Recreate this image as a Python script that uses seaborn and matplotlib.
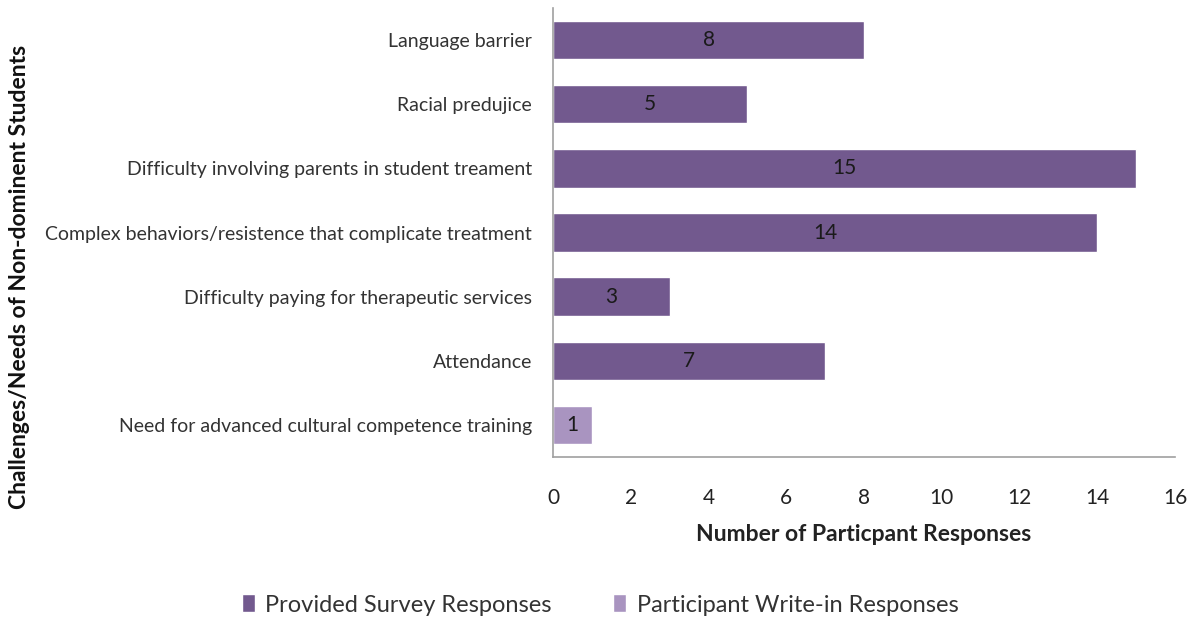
import matplotlib
matplotlib.use("Agg")
import matplotlib.pyplot as plt
import seaborn as sns
import pandas as pd

categories = [
    "Language barrier",
    "Racial predujice",
    "Difficulty involving parents in student treament",
    "Complex behaviors/resistence that complicate treatment",
    "Difficulty paying for therapeutic services",
    "Attendance",
    "Need for advanced cultural competence training",
]
counts = [8, 5, 15, 14, 3, 7, 1]
sources = [
    "Provided Survey Responses",
    "Provided Survey Responses",
    "Provided Survey Responses",
    "Provided Survey Responses",
    "Provided Survey Responses",
    "Provided Survey Responses",
    "Participant Write-in Responses",
]
series_order = ["Provided Survey Responses", "Participant Write-in Responses"]
series_colors = ["#72598E", "#A994C0"]
x_ticks = [0, 2, 4, 6, 8, 10, 12, 14, 16]

df = pd.DataFrame({"Challenge": categories, "Responses": counts, "Source": sources})

sns.set_theme(style="white")
plt.rcParams["font.family"] = ["Lato", "DejaVu Sans"]

fig = plt.figure(figsize=(11.95, 6.19), dpi=100)
ax = fig.add_axes([553 / 1195, 1 - 457 / 619, (1175 - 553) / 1195, (457 - 8) / 619])

sns.barplot(
    data=df, x="Responses", y="Challenge", hue="Source",
    hue_order=series_order, palette=series_colors, order=categories,
    dodge=False, width=0.6, orient="h", saturation=1, ax=ax, legend=True,
)

# value labels centred inside each bar
for container in ax.containers:
    for bar, val in zip(container, container.datavalues):
        if bar.get_width() == 0 or pd.isna(val):
            continue
        ax.text(bar.get_x() + bar.get_width() / 2, bar.get_y() + bar.get_height() / 2,
                f"{int(val)}", ha="center", va="center", fontsize=15, color="#1a1a1a")

ax.set_xlim(0, 16)
ax.set_xticks(x_ticks)
ax.set_ylim(len(categories) - 0.5, -0.5)
ax.tick_params(axis="x", labelsize=15, pad=22, length=0)
ax.tick_params(axis="y", labelsize=14, pad=15, length=0)
for lbl in ax.get_xticklabels():
    lbl.set_color("#222222")
for lbl in ax.get_yticklabels():
    lbl.set_color("#333333")

ax.set_xlabel("Number of Particpant Responses", fontsize=16.5, fontweight="bold", labelpad=12, color="#222222")
ax.set_ylabel("")
fig.text(20 / 1195, 1 - 277 / 619, "Challenges/Needs of Non-dominent Students", rotation=90,
         ha="center", va="center", fontsize=16.5, fontweight="bold", color="#111111")

for s in ["top", "right"]:
    ax.spines[s].set_visible(False)
for s in ["left", "bottom"]:
    ax.spines[s].set_color("#A0A0A0")
    ax.spines[s].set_linewidth(1.2)

leg = ax.legend(loc="center", ncol=2, frameon=False, fontsize=17, handlelength=0.55,
                handleheight=0.8, handletextpad=0.45, columnspacing=2.6)
leg.set_bbox_to_anchor((600 / 1195, 1 - 605 / 619), transform=fig.transFigure)
for t in leg.get_texts():
    t.set_color("#333333")

fig.savefig("out.png", dpi=100)
